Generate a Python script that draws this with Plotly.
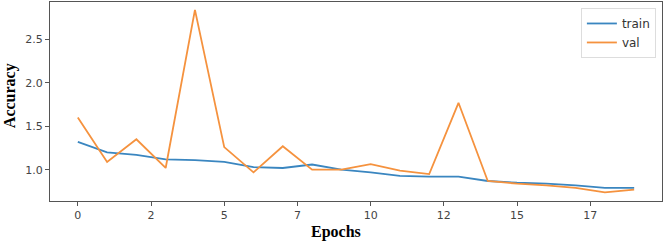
import plotly.graph_objects as go

epochs = list(range(20))
train = [1.32, 1.20, 1.17, 1.12, 1.11, 1.09, 1.03, 1.02, 1.06, 1.00,
         0.97, 0.93, 0.92, 0.92, 0.87, 0.85, 0.84, 0.82, 0.79, 0.79]
val = [1.60, 1.09, 1.35, 1.02, 2.84, 1.26, 0.97, 1.27, 1.00, 1.00,
       1.065, 0.99, 0.95, 1.77, 0.87, 0.84, 0.82, 0.79, 0.74, 0.77]
x_tickvals = [0, 2.5, 5, 7.5, 10, 12.5, 15, 17.5]
x_ticktext = ["0", "2", "5", "7", "10", "12", "15", "17"]
y_tickvals = [1.0, 1.5, 2.0, 2.5]
y_ticktext = ["1.0", "1.5", "2.0", "2.5"]

fig = go.Figure()
fig.add_trace(go.Scatter(x=epochs, y=train, mode="lines", name="train",
                         line=dict(color="#3a86c0", width=1.8)))
fig.add_trace(go.Scatter(x=epochs, y=val, mode="lines", name="val",
                         line=dict(color="#f5923e", width=1.8)))

axis_common = dict(showgrid=False, zeroline=False, showline=True, mirror=True,
                   linecolor="#555555", linewidth=1.2, ticks="outside",
                   ticklen=4, tickcolor="#555555", automargin=False,
                   tickfont=dict(family="DejaVu Sans", size=11, color="#444444"))

fig.update_layout(
    width=668, height=244,
    margin=dict(l=50, r=6, t=2, b=43, autoexpand=False),
    paper_bgcolor="white", plot_bgcolor="white",
    xaxis=dict(range=[-0.95, 19.95], tickvals=x_tickvals, ticktext=x_ticktext,
               **axis_common),
    yaxis=dict(range=[0.64, 2.93], tickvals=y_tickvals, ticktext=y_ticktext,
               **axis_common),
    legend=dict(x=0.99, y=0.97, xanchor="right", yanchor="top",
                bgcolor="white", bordercolor="#dddddd", borderwidth=1,
                font=dict(family="DejaVu Sans", size=12, color="#333333"),
                tracegroupgap=0, itemwidth=30),
    showlegend=True,
    annotations=[
        dict(text="<b>Epochs</b>", xref="paper", yref="paper", x=0.468, y=-0.156,
             xanchor="center", yanchor="middle", showarrow=False,
             font=dict(family="Liberation Serif", size=16, color="black")),
        dict(text="<b>Accuracy</b>", xref="paper", yref="paper", x=-0.066, y=0.53,
             xanchor="center", yanchor="middle", showarrow=False, textangle=-90,
             font=dict(family="Liberation Serif", size=16, color="black")),
    ],
)

fig.write_html("out.html", config={"displayModeBar": False},
               post_script="document.body.style.margin='0';")
